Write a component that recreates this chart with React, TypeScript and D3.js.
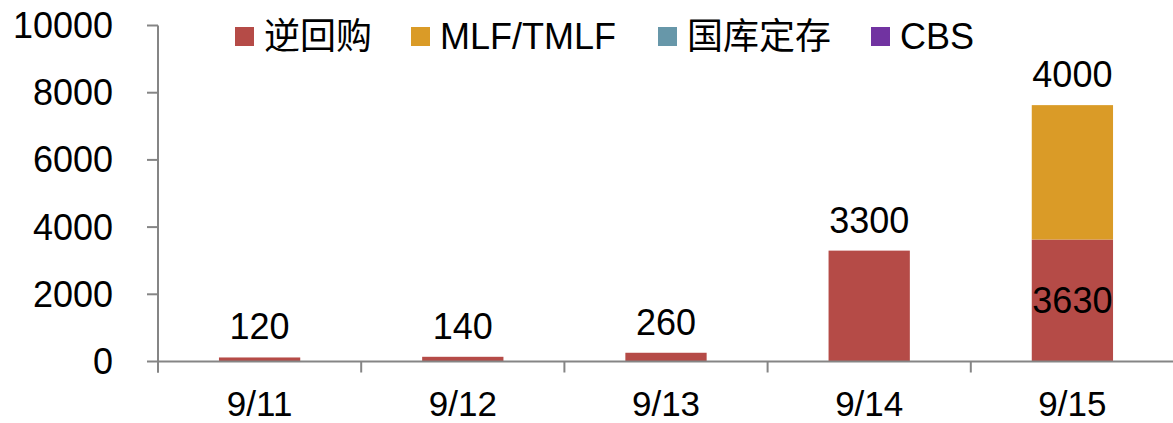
import React from 'react';
import * as d3 from 'd3';

// Daily open-market liquidity injections by tool (100m CNY)
const categories = ['9/11', '9/12', '9/13', '9/14', '9/15'];
const seriesNames = ['逆回购', 'MLF/TMLF', '国库定存', 'CBS'];
const reverseRepo = [120, 140, 260, 3300, 3630];
const mlfTmlf = [0, 0, 0, 0, 4000];
const treasuryDeposit = [0, 0, 0, 0, 0];
const cbs = [0, 0, 0, 0, 0];
const yTicks = [0, 2000, 4000, 6000, 8000, 10000];

const colors = ['#B54B47', '#DA9B27', '#6797A9', '#7133A1'];
const legendX = [235, 411, 658, 871];

const W = 1173;
const H = 423;
const FONT = '"Liberation Sans", Arial, "Noto Sans CJK SC", sans-serif';
const AXIS = '#858585';

export default function App() {
  const rows = categories.map((c, i) => ({
    cat: c,
    s0: reverseRepo[i],
    s1: mlfTmlf[i],
    s2: treasuryDeposit[i],
    s3: cbs[i],
  }));
  const keys = ['s0', 's1', 's2', 's3'];
  const stacked = d3.stack<any>().keys(keys)(rows);

  const y = d3.scaleLinear().domain([0, 10000]).range([361.5, 25.5]);
  const x = d3
    .scaleBand<string>()
    .domain(categories)
    .range([158, 1174])
    .paddingInner(0.6)
    .paddingOuter(0.3);
  const step = x.step();
  const x0 = 158;

  const labels: { x: number; y: number; text: string }[] = [];
  rows.forEach((r, i) => {
    const vals = keys.map((k) => (r as any)[k] as number);
    const nonzero = vals.map((v, j) => ({ v, j })).filter((d) => d.v > 0);
    const cx = (x(r.cat) as number) + x.bandwidth() / 2;
    nonzero.forEach((d, idx) => {
      const seg = stacked[d.j][i];
      if (idx === nonzero.length - 1) {
        labels.push({ x: cx, y: y(seg[1]) - 18, text: String(d.v) });
      } else {
        labels.push({ x: cx, y: (y(seg[0]) + y(seg[1])) / 2 + 12, text: String(d.v) });
      }
    });
  });

  return (
    <svg
      width={W}
      height={H}
      style={{ position: 'absolute', left: 0, top: 0, background: '#fff' }}
      fontFamily={FONT}
    >
      {/* bars */}
      {stacked.map((layer, li) => (
        <g key={li} fill={colors[li]}>
          {layer.map((d, i) =>
            d[1] - d[0] > 0 ? (
              <rect
                key={i}
                x={x(categories[i])}
                width={x.bandwidth()}
                y={y(d[1])}
                height={y(d[0]) - y(d[1])}
              />
            ) : null
          )}
        </g>
      ))}

      {/* y axis */}
      <line x1={x0} x2={x0} y1={y(10000)} y2={y(0) + 11} stroke={AXIS} strokeWidth={2} />
      {yTicks.map((t) => (
        <g key={t}>
          <line x1={147} x2={x0} y1={y(t)} y2={y(t)} stroke={AXIS} strokeWidth={2} />
          <text x={113} y={y(t) + 12.5} textAnchor="end" fontSize={36} fill="#000">
            {t}
          </text>
        </g>
      ))}

      {/* x axis */}
      <line x1={x0} x2={W} y1={y(0)} y2={y(0)} stroke={AXIS} strokeWidth={2} />
      {categories.map((c, i) => (
        <line
          key={c}
          x1={x0 + step * i}
          x2={x0 + step * i}
          y1={y(0)}
          y2={y(0) + 11}
          stroke={AXIS}
          strokeWidth={2}
        />
      ))}
      {categories.map((c) => (
        <text
          key={c}
          x={(x(c) as number) + x.bandwidth() / 2}
          y={416}
          textAnchor="middle"
          fontSize={35}
          fill="#000"
        >
          {c}
        </text>
      ))}

      {/* value labels */}
      {labels.map((l, i) => (
        <text key={i} x={l.x} y={l.y} textAnchor="middle" fontSize={36} fill="#000">
          {l.text}
        </text>
      ))}

      {/* legend */}
      {seriesNames.map((n, i) => (
        <g key={n}>
          <rect x={legendX[i]} y={27} width={19} height={19} fill={colors[i]} />
          <text x={legendX[i] + 29} y={49} fontSize={36} fill="#000">
            {n}
          </text>
        </g>
      ))}
    </svg>
  );
}
